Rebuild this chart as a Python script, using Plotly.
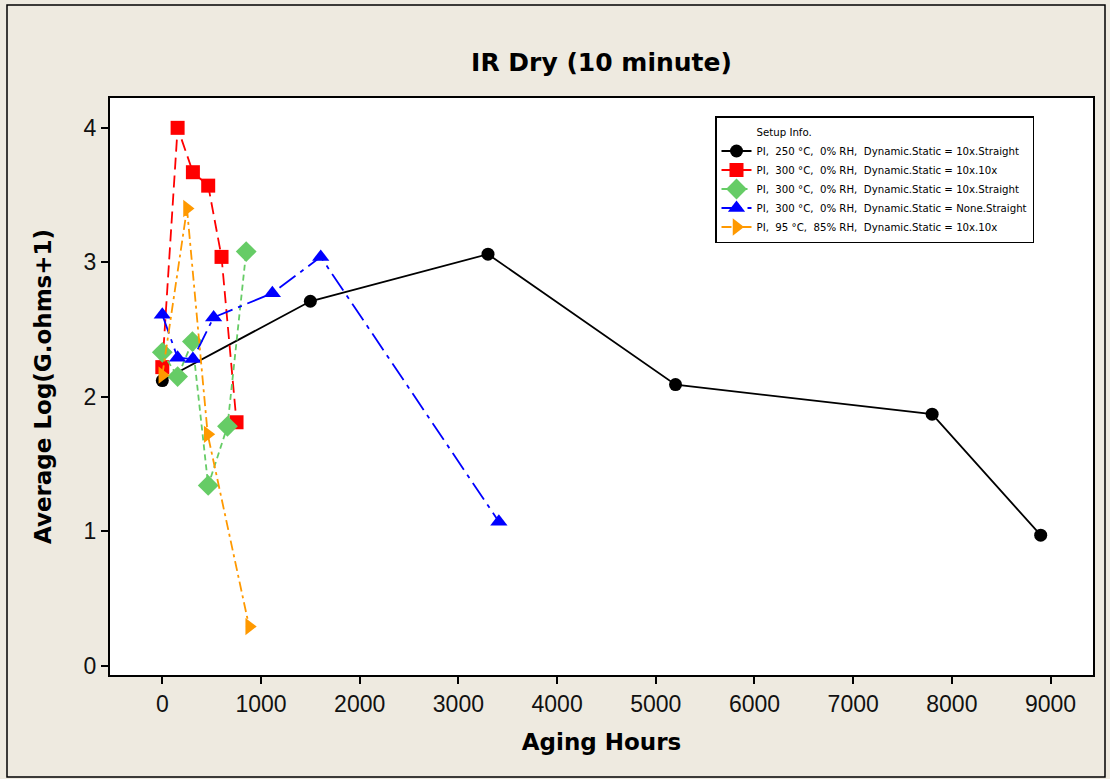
import plotly.graph_objects as go

# ---- data ----
black_name = "PI,  250 °C,  0% RH,  Dynamic.Static = 10x.Straight"
black_x = [0, 1500, 3300, 5200, 7800, 8900]
black_y = [2.12, 2.71, 3.06, 2.09, 1.87, 0.97]

red_name = "PI,  300 °C,  0% RH,  Dynamic.Static = 10x.10x"
red_x = [0, 155, 310, 465, 600, 752]
red_y = [2.22, 4.00, 3.67, 3.57, 3.04, 1.81]

green_name = "PI,  300 °C,  0% RH,  Dynamic.Static = 10x.Straight"
green_x = [0, 155, 305, 465, 660, 850]
green_y = [2.33, 2.15, 2.41, 1.34, 1.78, 3.08]

blue_name = "PI,  300 °C,  0% RH,  Dynamic.Static = None.Straight"
blue_x = [0, 155, 310, 520, 1115, 1605, 3410]
blue_y = [2.61, 2.29, 2.28, 2.59, 2.77, 3.04, 1.07]

orange_name = "PI,  95 °C,  85% RH,  Dynamic.Static = 10x.10x"
orange_x = [0, 250, 460, 880]
orange_y = [2.16, 3.40, 1.72, 0.29]

x_ticks = [0, 1000, 2000, 3000, 4000, 5000, 6000, 7000, 8000, 9000]
y_ticks = [0, 1, 2, 3, 4]

title_text = "IR Dry (10 minute)"
x_title = "Aging Hours"
y_title = "Average Log(G.ohms+1)"
legend_title = "Setup Info."

fig = go.Figure()

# legend header entry (no mark)
fig.add_trace(go.Scatter(x=[None], y=[None], mode="lines", name=legend_title,
                         line=dict(color="rgba(0,0,0,0)", width=0), hoverinfo="skip"))

series = [
    (black_name, black_x, black_y, "#000000", "circle", 13, "solid"),
    (red_name, red_x, red_y, "#FF0000", "square", 14, "12px,6px"),
    (green_name, green_x, green_y, "#66CC66", "diamond", 16, "6px,4px"),
    (blue_name, blue_x, blue_y, "#0000FF", "triangle-up", 15, "20px,6px,4px,6px"),
    (orange_name, orange_x, orange_y, "#FF9900", "triangle-right", 15, "10px,4px,3px,4px"),
]
for name, xs, ys, col, sym, size, dash in series:
    fig.add_trace(go.Scatter(
        x=xs, y=ys, mode="lines+markers", name=name,
        line=dict(color=col, width=1.8, dash=dash),
        marker=dict(color=col, symbol=sym, size=size, line=dict(width=0)),
    ))

L, R, T, B = 110, 17, 98, 104
W, H = 1110, 779
pw, ph = W - L - R, H - T - B

def px2paper_x(px):
    return (px - L) / pw

def px2paper_y(py):
    return (H - B - py) / ph

fig.update_layout(
    width=W, height=H,
    margin=dict(l=L, r=R, t=T, b=B, pad=0),
    paper_bgcolor="#EEEAE0",
    plot_bgcolor="#FFFFFF",
    font=dict(family="Liberation Sans, Arial, sans-serif", color="#000000"),
    title=dict(text=title_text, x=0.5, xref="paper", xanchor="center",
               y=1 - 62 / H, yanchor="middle",
               font=dict(family="DejaVu Sans", size=25, color="#000000", weight="bold")),
    showlegend=True,
    legend=dict(
        x=px2paper_x(715), y=px2paper_y(116), xanchor="left", yanchor="top",
        bgcolor="#FFFFFF", bordercolor="#000000", borderwidth=1.5,
        font=dict(family="DejaVu Sans", size=10.2, color="#000000"),
        tracegroupgap=0, itemsizing="trace",
    ),
    xaxis=dict(
        range=[-530, 9430], tickvals=x_ticks, ticktext=[str(v) for v in x_ticks],
        showgrid=False, zeroline=False,
        showline=True, linecolor="#000000", linewidth=2, mirror=True,
        ticks="outside", ticklen=7, tickwidth=1.5, tickcolor="#000000",
        tickfont=dict(family="Liberation Sans, Arial, sans-serif", size=23, color="#111111"),
        title=dict(text=x_title, standoff=18,
                   font=dict(family="DejaVu Sans", size=23, color="#000000", weight="bold")),
    ),
    yaxis=dict(
        range=[-0.07, 4.222], tickvals=y_ticks, ticktext=[str(v) for v in y_ticks],
        showgrid=False, zeroline=False,
        showline=True, linecolor="#000000", linewidth=2, mirror=True,
        ticks="outside", ticklen=7, tickwidth=1.5, tickcolor="#000000",
        tickfont=dict(family="Liberation Sans, Arial, sans-serif", size=23, color="#111111"),
        title=dict(text=y_title, standoff=26,
                   font=dict(family="DejaVu Sans", size=23, color="#000000", weight="bold")),
    ),
    shapes=[dict(type="rect", xref="paper", yref="paper",
                 x0=px2paper_x(7), x1=px2paper_x(1105),
                 y0=px2paper_y(777), y1=px2paper_y(5),
                 line=dict(color="#000000", width=1.5), fillcolor="rgba(0,0,0,0)",
                 layer="below")],
)

fig.write_html("out.html")
